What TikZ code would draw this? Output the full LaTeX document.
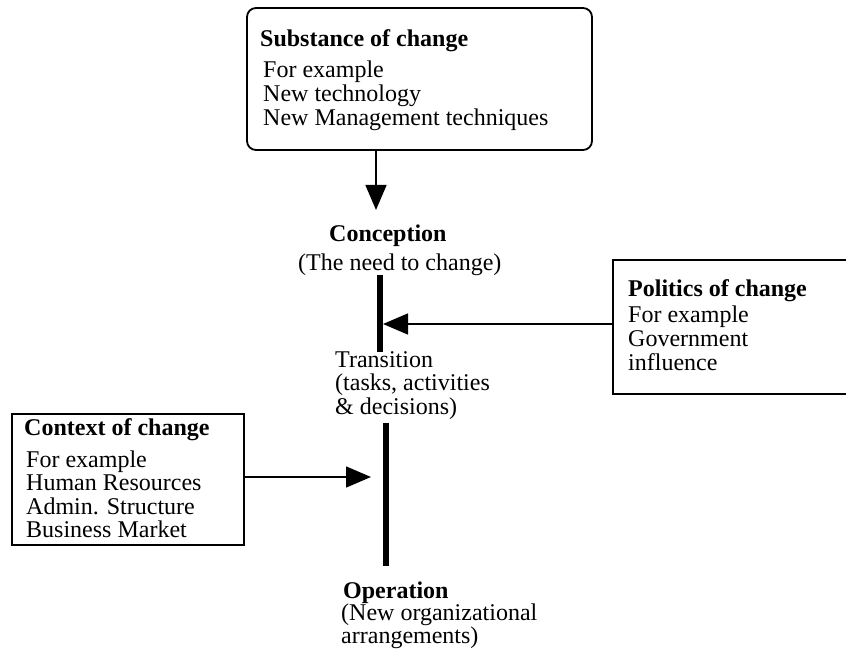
\documentclass[tikz,border=0pt]{standalone}
\usepackage{fontspec}
\setmainfont{Liberation Serif}
\usetikzlibrary{arrows.meta}
\tikzset{
  txt/.style={anchor=base west, inner sep=0pt, font=\fontsize{24}{23.5}\selectfont},
  ttl/.style={anchor=base west, inner sep=0pt, font=\bfseries\fontsize{24}{23.5}\selectfont},
  boxframe/.style={draw, line width=1.8pt},
  arr/.style={line width=1.5pt, -{Triangle[length=25pt,width=21pt]}},
  bar/.style={line width=6pt}
}
\newcommand{\lines}[1]{\def\arraystretch{1}\begin{tabular}[t]{@{}l@{}}#1\end{tabular}}
\begin{document}
\begin{tikzpicture}[x=1pt,y=-1pt]
\clip (0,0) rectangle (846,652);
% Substance box
\draw[boxframe, rounded corners=9pt] (247,8) rectangle (592,150);
\coordinate (substS) at (376,150);
\node[ttl] (substT) at (260,47) {Substance of change};
\node[txt] (substB) at (263,78) {\lines{For example\\New technology\\New Management techniques}};
% Conception
\coordinate (concTip) at (376,210);
\node[ttl] (conc) at (329,242) {Conception};
\node[txt] (concB) at (298,271) {(The need to change)};
\draw[arr] (substS) -- (concTip);
% bar 1
\coordinate (b1t) at (380,275);
\coordinate (b1b) at (380,352);
\draw[bar] (b1t) -- (b1b);
% Politics box
\draw[boxframe] (613,260) rectangle (852,394);
\coordinate (polW) at (613,324);
\coordinate (polTip) at (383,324);
\node[ttl] (polT) at (628,297) {Politics of change};
\node[txt] (polB) at (628,323) {\lines{For example\\Government\\influence}};
\draw[arr] (polW) -- (polTip);
% Transition
\node[txt] (trans) at (335,367) {\lines{Transition\\(tasks, activities\\\& decisions)}};
% bar 2
\coordinate (b2t) at (386,423);
\coordinate (b2b) at (386,566);
\draw[bar] (b2t) -- (b2b);
% Context box
\draw[boxframe] (12,414) rectangle (244,545);
\coordinate (ctxE) at (244,477);
\coordinate (ctxTip) at (371,477);
\node[ttl] (ctxT) at (24,435) {Context of change};
\node[txt] (ctxB) at (26,467) {\lines{For example\\Human Resources\\Admin. Structure\\Business Market}};
\draw[arr] (ctxE) -- (ctxTip);
% Operation
\node[ttl] (oper) at (343,598) {Operation};
\node[txt] (operB) at (341,620) {\lines{(New organizational\\arrangements)}};
\end{tikzpicture}
\end{document}
